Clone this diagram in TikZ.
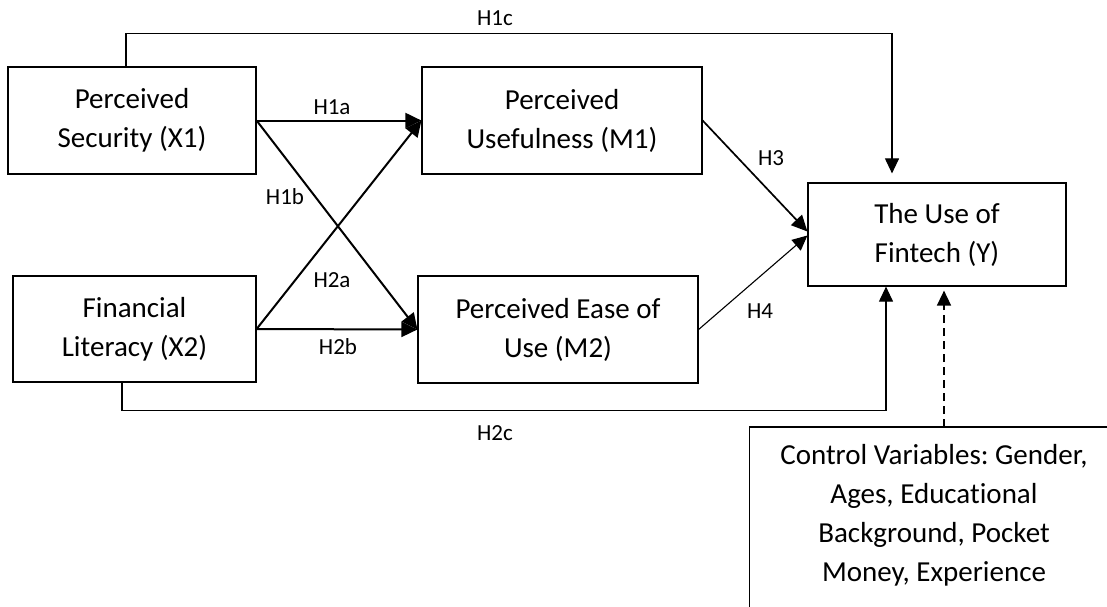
\documentclass[tikz,border=0pt]{standalone}
\usepackage{fontspec}
\setmainfont[Ligatures=NoCommon]{Carlito}
\usetikzlibrary{arrows.meta,positioning,calc}
\frenchspacing

\begin{document}
\begin{tikzpicture}[x=0.5pt,y=-0.5pt,
  var/.style={draw,line width=0.6pt,align=center,inner sep=0pt,
    font=\fontsize{14.5}{19.5}\selectfont},
  hyp/.style={inner sep=0pt,font=\fontsize{11.5}{13}\selectfont},
  link/.style={line width=1pt,-{Triangle[length=8pt,width=7.5pt]}},
  thin/.style={line width=0.55pt,-{Triangle[length=7.5pt,width=7pt]}}]
\useasboundingbox (0,0) rectangle (1107,606);
% constructs
\node[var,minimum width=124pt,minimum height=53.5pt] (X1) at (132,120.5) {Perceived\\Security (X1)};
\node[var,minimum width=121.5pt,minimum height=53pt] (X2) at (134.5,329) {Financial\\Literacy (X2)};
\node[var,minimum width=140pt,minimum height=53.5pt] (M1) at (562,120.5) {Perceived\\Usefulness (M1)};
\node[var,minimum width=140pt,minimum height=53.5pt] (M2) at (558,329.5) {Perceived Ease of\\Use (M2)};
\node[var,minimum width=129pt,minimum height=51.5pt] (Y) at (937,234.5) {The Use of\\Fintech (Y)};
\node[align=center,anchor=north,minimum width=184pt,inner xsep=0pt,inner ysep=8.5pt,
  font=\fontsize{14.5}{19.5}\selectfont] (ctrl) at (934,427)
  {Control Variables: Gender,\\Ages, Educational\\Background, Pocket\\Money, Experience};
\draw[line width=0.6pt] ([yshift=-30pt]ctrl.south west) -- (ctrl.north west)
  -- (ctrl.north east) -- ([yshift=-30pt]ctrl.south east);
% paths
\foreach \s/\t in {X1/M1,X1/M2,X2/M1,X2/M2}
  \draw[link] (\s.east) -- (\t.west);
\draw[link,line width=0.85pt] (M1.east) -- ([yshift=1.5pt]Y.west);
\draw[thin] (M2.east) -- ([yshift=-0.5pt]Y.west);
\draw[thin,shorten >=4.5pt] ([xshift=-3pt]X1.north) -- ++(0,-33) -| ([xshift=-22.5pt]Y.north);
\draw[thin] ([xshift=-6.25pt]X2.south) -- ++(0,28) -| ([xshift=-25.5pt]Y.south);
\draw[thin,line width=0.8pt,dash pattern=on 4pt off 2.5pt,shorten >=2pt]
  ([xshift=5pt]ctrl.north) -- ([xshift=3.5pt]Y.south);
% labels
\foreach \n/\x/\y in {H1a/332/107,H1b/285/197,H1c/495/18,H2a/332/280,
  H2b/338/347,H2c/495/433,H3/771/158,H4/760/311}
  \node[hyp] (\n) at (\x,\y) {\n};
\end{tikzpicture}
\end{document}
